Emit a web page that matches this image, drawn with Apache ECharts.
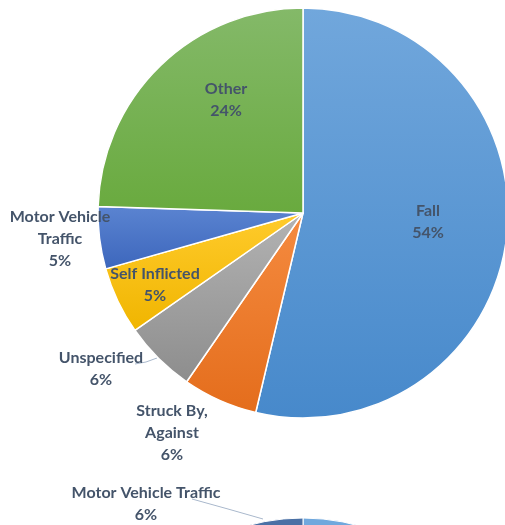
<!DOCTYPE html>
<html>
<head>
<meta charset="utf-8">
<script src="https://cdn.jsdelivr.net/npm/echarts@6/dist/echarts.min.js"></script>
<style>
  html, body { margin: 0; padding: 0; background: #fff; }
  #chart { width: 505px; height: 525px; }
</style>
</head>
<body>
<div id="chart"></div>
<script>
// injury causes (upper pie), clockwise from 12 o'clock
const categories = ["Fall", "Struck By,\nAgainst", "Unspecified", "Self Inflicted", "Motor Vehicle\nTraffic", "Other"];
const shares = [53.7, 5.9, 5.7, 5.3, 4.9, 24.49];
// lower pie, only its top edge is in view
const lowerCategories = ["Fall", "Struck By, Against", "Unspecified", "Self Inflicted", "Other", "Motor Vehicle Traffic"];
const lowerShares = [50, 8, 7, 4, 25, 6];

// excel-like top->bottom gradients
const sliceColors = [
  ["#71a7dc", "#4789cb"],
  ["#f58b40", "#e46d1c"],
  ["#b3b3b3", "#8d8d8d"],
  ["#ffcb2c", "#f0b500"],
  ["#5b84d1", "#3c66bc"],
  ["#84b969", "#69aa3e"]
];
const lowerColors = ["#70a8dd", "#8fb8e0", "#a9c6e4", "#c2d6ea", "#5d86bb", "#4a70a5"];

// label centres (px) for the upper pie
const labelSpots = [[428, 222], [172, 433], [101, 369], [155, 285], [60, 239], [226, 100]];

const chart = echarts.init(document.getElementById("chart"));

const grad = (c) => new echarts.graphic.LinearGradient(0, 0, 0, 1, [
  { offset: 0, color: c[0] },
  { offset: 1, color: c[1] }
]);

const labelText = {
  fontFamily: "Lato, 'Open Sans', sans-serif",
  fontWeight: "bold",
  fontSize: 16,
  lineHeight: 22,
  color: "#44546a"
};

chart.setOption({
  animation: false,
  series: [
    {
      type: "pie",
      center: [303, 213],
      radius: 205,
      startAngle: 90,
      clockwise: true,
      avoidLabelOverlap: false,
      itemStyle: { borderColor: "#fff", borderWidth: 1.5 },
      label: Object.assign({
        show: true,
        position: "outside",
        formatter: (p) => p.name + "\n" + Math.round(p.percent) + "%"
      }, labelText),
      labelLine: { show: false, lineStyle: { color: "#a9b8cc", width: 1 } },
      labelLayout: (p) => {
        const s = labelSpots[p.dataIndex];
        const out = { x: s[0], y: s[1], align: "center", verticalAlign: "middle" };
        if (p.dataIndex === 2) out.labelLinePoints = [[135, 364], [146, 362], [157, 358]];
        return out;
      },
      data: categories.map((name, i) => ({
        name: name,
        value: shares[i],
        itemStyle: { color: grad(sliceColors[i]) },
        labelLine: { show: i === 2 }
      }))
    },
    {
      type: "pie",
      center: [303, 723],
      radius: 205,
      startAngle: 90,
      clockwise: true,
      avoidLabelOverlap: false,
      itemStyle: { borderColor: "#fff", borderWidth: 1 },
      label: Object.assign({
        show: false,
        position: "outside",
        formatter: (p) => p.name + "\n" + Math.round(p.percent) + "%"
      }, labelText),
      labelLine: { show: false, lineStyle: { color: "#a9b8cc", width: 1 } },
      labelLayout: (p) => ({
        x: 146, y: 504, align: "center", verticalAlign: "middle",
        labelLinePoints: [[192, 499], [228, 509], [263, 519]]
      }),
      data: lowerCategories.map((name, i) => ({
        name: name,
        value: lowerShares[i],
        itemStyle: { color: lowerColors[i] },
        label: { show: i === lowerCategories.length - 1 },
        labelLine: { show: i === lowerCategories.length - 1 }
      }))
    }
  ]
});
</script>
</body>
</html>
